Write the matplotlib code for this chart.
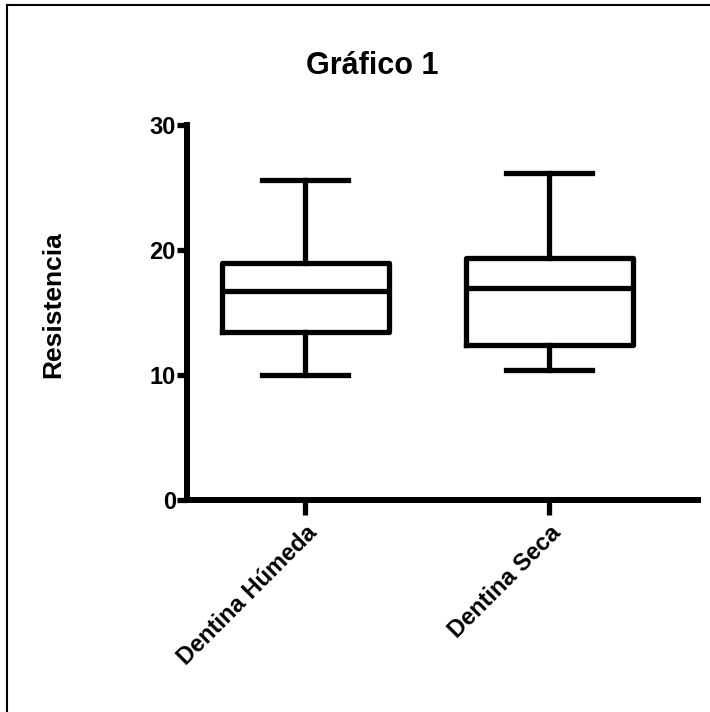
import matplotlib
matplotlib.use("Agg")
import matplotlib.pyplot as plt
from matplotlib.lines import Line2D

# box statistics
groups = ["Dentina Húmeda", "Dentina Seca"]
whislo = [10.0, 10.4]
q1 = [13.4, 12.4]
med = [16.7, 17.0]
q3 = [19.0, 19.4]
whishi = [25.6, 26.2]
yticks = [0, 10, 20, 30]

plt.rcParams['font.family'] = ['Liberation Sans', 'DejaVu Sans']
plt.rcParams['font.weight'] = 'bold'

fig = plt.figure(figsize=(7.1, 7.12), dpi=100)
ax = fig.add_axes([0.2634, 0.2978, 0.7197, 0.5266])

stats = []
for i in range(len(groups)):
    stats.append({"label": groups[i], "whislo": whislo[i], "q1": q1[i],
                  "med": med[i], "q3": q3[i], "whishi": whishi[i], "fliers": []})

lw = 3.8
ax.bxp(stats, positions=[1, 2], widths=0.684, capwidths=0.35, showfliers=False,
       boxprops=dict(linewidth=lw, color="black"),
       whiskerprops=dict(linewidth=lw, color="black"),
       capprops=dict(linewidth=lw, color="black"),
       medianprops=dict(linewidth=lw, color="black"))

ax.set_xlim(0.516, 2.61)
ax.set_ylim(0, 30)
ax.set_yticks(yticks)
ax.set_xticks([1, 2])
ax.set_xticklabels(groups, rotation=45, ha="right", rotation_mode="anchor",
                   fontsize=17, fontweight="bold")
ax.tick_params(axis="y", labelsize=17, length=7, width=lw, pad=1)
ax.tick_params(axis="x", length=11, width=lw, pad=4)

for s in ["top", "right"]:
    ax.spines[s].set_visible(False)
for s in ["left", "bottom"]:
    ax.spines[s].set_linewidth(4.3)
ax.spines["left"].set_capstyle("projecting")

ax.set_ylabel("Resistencia", fontsize=19, fontweight="bold")
ax.yaxis.set_label_coords(-0.238, 0.52)
fig.text(372 / 710, 1 - 66 / 712, "Gráfico 1", fontsize=22, fontweight="bold",
         ha="center", va="center")

# frame lines on the top and left edge of the image
fig.add_artist(Line2D([0.01, 0.01], [0, 0.993], transform=fig.transFigure, color="black", linewidth=1.5))
fig.add_artist(Line2D([0.01, 1.0], [0.993, 0.993], transform=fig.transFigure, color="black", linewidth=1.5))

fig.savefig("out.png", dpi=100)
